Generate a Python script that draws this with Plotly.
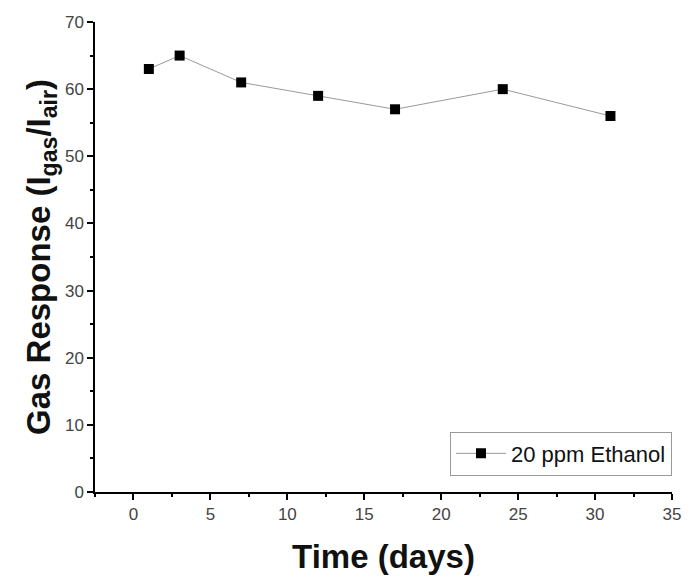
import plotly.graph_objects as go

days = [1, 3, 7, 12, 17, 24, 31]
response = [63, 65, 61, 59, 57, 60, 56]
series_name = "20 ppm Ethanol"

fig = go.Figure()
fig.add_trace(go.Scatter(
    x=days, y=response, mode="lines+markers", name=series_name,
    line=dict(color="#9a9a9a", width=1),
    marker=dict(symbol="square", size=10, color="black"),
    showlegend=True,
))

axis_common = dict(
    showline=True, linecolor="black", linewidth=1.5, mirror=False,
    ticks="outside", ticklen=6, tickcolor="black", tickwidth=1.5,
    showgrid=False, zeroline=False,
    tickfont=dict(family="Liberation Sans, Arial", size=17, color="#444"),
)

fig.update_layout(
    width=693, height=582,
    margin=dict(l=95, r=15, t=22, b=90),
    paper_bgcolor="white", plot_bgcolor="white",
    xaxis=dict(range=[-2.5, 35], dtick=5, tick0=0,
               minor=dict(ticks="outside", dtick=2.5, tick0=0, ticklen=3, tickcolor="black"),
               title=dict(text="<b>Time (days)</b>", standoff=22,
                          font=dict(family="Liberation Sans, Arial", size=33, color="#111")),
               **axis_common),
    yaxis=dict(range=[0, 70], dtick=10,
               minor=dict(ticks="outside", dtick=5, ticklen=3, tickcolor="black"),
               title=dict(text="<b>Gas Response (I<sub>gas</sub>/I<sub>air</sub>)</b>", standoff=4,
                          font=dict(family="Liberation Sans, Arial", size=33, color="#111")),
               **axis_common),
    legend=dict(x=1.0, y=0.035, xanchor="right", yanchor="bottom",
                bordercolor="#999", borderwidth=1, bgcolor="white",
                itemwidth=50, tracegroupgap=0,
                font=dict(family="Liberation Sans, Arial", size=22, color="#111")),
)

fig.write_html("out.html")
